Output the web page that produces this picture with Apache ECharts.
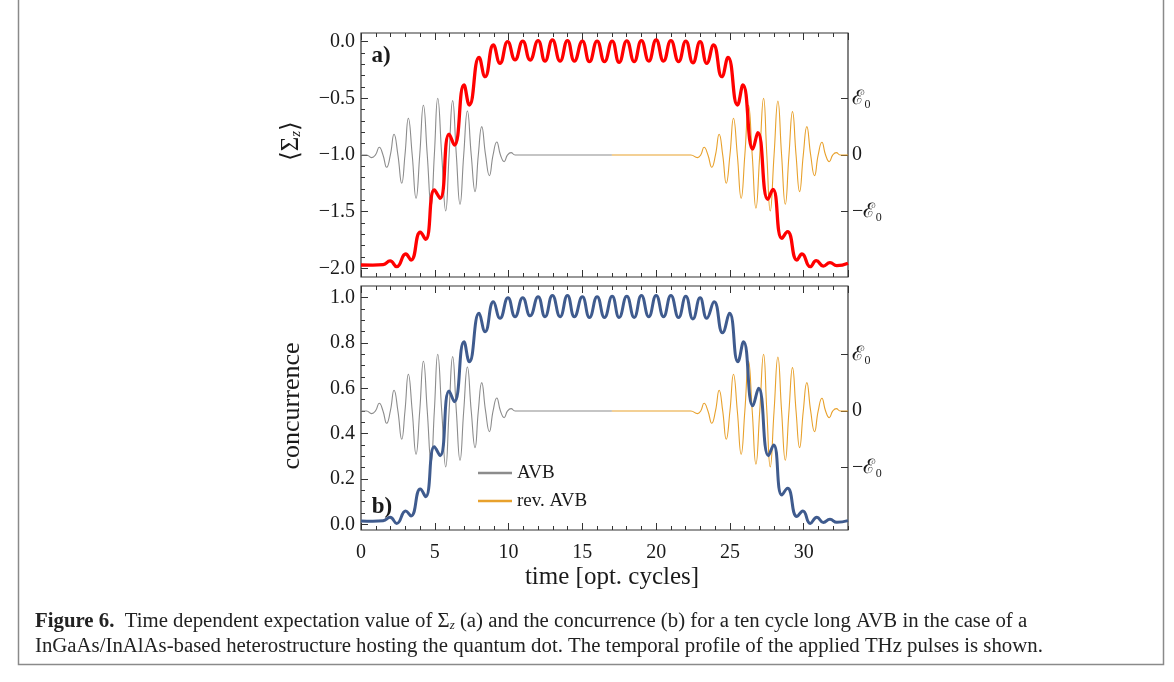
<!DOCTYPE html>
<html>
<head>
<meta charset="utf-8">
<script src="https://cdn.jsdelivr.net/npm/echarts@6/dist/echarts.min.js"></script>
<style>
html,body{margin:0;padding:0;background:#fff;}
#chart{width:1174px;height:682px;}
</style>
</head>
<body>
<div id="chart"></div>
<script>
// ---------- data ----------
// x range (optical cycles)
const xMin = 0, xMax = 33;
const xTickValues = [0, 5, 10, 15, 20, 25, 30];
// panel a tick labels
const sigmaTicks = [-2.0, -1.5, -1.0, -0.5, 0.0];
// panel b tick labels
const concTicks = [0.0, 0.2, 0.4, 0.6, 0.8, 1.0];
// field axis tick labels
const fieldTickLabels = ['−ℰ₀', '0', 'ℰ₀'];

// <Sigma_z> (panel a) : [time, value] at extrema
const sigmaZ = [
  [0, -1.971], [0.8, -1.972], [1.5, -1.968], [1.97, -1.935], [2.42, -1.986],
  [3.03, -1.874], [3.39, -1.927], [4.02, -1.682], [4.38, -1.744], [4.97, -1.309],
  [5.36, -1.382], [5.97, -0.815], [6.33, -0.912], [6.98, -0.382], [7.34, -0.559],
  [8.0, -0.138], [8.41, -0.309], [8.97, -0.029], [9.42, -0.19], [9.94, 0.0],
  [10.44, -0.16], [10.96, 0.005], [11.46, -0.162], [12.0, 0.01], [12.47, -0.171],
  [12.97, 0.015], [13.49, -0.171], [13.99, 0.01], [14.46, -0.171], [15.0, 0.005],
  [15.48, -0.176], [16.0, 0.005], [16.5, -0.176], [17.02, 0.005], [17.49, -0.182],
  [18.01, 0.008], [18.51, -0.176], [19.0, 0.01], [19.5, -0.171], [20.0, 0.015],
  [20.5, -0.171], [21.0, 0.01], [21.52, -0.176], [22.01, 0.005], [22.49, -0.186],
  [22.98, 0.0], [23.43, -0.191], [23.89, -0.029], [24.45, -0.309], [24.87, -0.138],
  [25.51, -0.559], [25.88, -0.382], [26.55, -0.947], [26.89, -0.803], [27.57, -1.391],
  [27.91, -1.303], [28.52, -1.735], [28.9, -1.677], [29.54, -1.927], [29.88, -1.874],
  [30.44, -1.986], [30.85, -1.933], [31.33, -1.98], [31.78, -1.95], [32.24, -1.977],
  [33.0, -1.956]
];

// concurrence (panel b) : [time, value] at extrema
const concurrence = [
  [0, 0.015], [0.8, 0.014], [1.5, 0.016], [1.97, 0.031], [2.42, 0.004],
  [3.03, 0.059], [3.39, 0.037], [4.02, 0.156], [4.38, 0.122], [4.97, 0.342],
  [5.36, 0.303], [5.97, 0.588], [6.33, 0.541], [6.98, 0.806], [7.34, 0.717],
  [8.0, 0.931], [8.41, 0.85], [8.97, 0.982], [9.42, 0.909], [9.96, 1.0],
  [10.44, 0.916], [10.96, 1.0], [11.46, 0.92], [12.0, 1.004], [12.47, 0.916],
  [12.97, 1.01], [13.49, 0.916], [13.99, 1.01], [14.46, 0.916], [15.0, 1.004],
  [15.48, 0.913], [16.0, 1.004], [16.5, 0.913], [17.02, 1.006], [17.49, 0.913],
  [18.01, 1.006], [18.51, 0.913], [19.0, 1.01], [19.5, 0.916], [20.0, 1.01],
  [20.5, 0.916], [21.0, 1.01], [21.52, 0.913], [22.01, 1.006], [22.49, 0.906],
  [22.98, 1.0], [23.43, 0.909], [23.93, 0.982], [24.5, 0.845], [24.97, 0.931],
  [25.54, 0.717], [25.92, 0.806], [26.55, 0.523], [26.94, 0.6], [27.61, 0.303],
  [27.96, 0.35], [28.52, 0.129], [28.9, 0.159], [29.54, 0.034], [29.94, 0.059],
  [30.44, 0.004], [30.89, 0.031], [31.33, 0.008], [31.78, 0.022], [32.24, 0.009],
  [33.0, 0.016]
];

// AVB field (units of E0): extrema and zero crossings
const fieldAVB = [
  [0, 0], [0.38, 0], [0.72, -0.047], [0.98, 0], [1.24, 0.135], [1.49, 0],
  [1.74, -0.218], [1.99, 0], [2.24, 0.365], [2.5, 0], [2.76, -0.5], [2.98, 0],
  [3.21, 0.647], [3.47, 0], [3.73, -0.765], [3.98, 0], [4.23, 0.876], [4.49, 0],
  [4.75, -0.912], [4.97, 0], [5.2, 1.0], [5.47, 0], [5.74, -0.988], [5.97, 0],
  [6.21, 0.959], [6.46, 0], [6.71, -0.871], [6.96, 0], [7.21, 0.776], [7.47, 0],
  [7.73, -0.647], [7.95, 0], [8.18, 0.5], [8.44, 0], [8.7, -0.365], [8.95, 0],
  [9.2, 0.229], [9.45, 0], [9.7, -0.118], [9.93, 0], [10.17, 0.041], [10.44, 0],
  [17.0, 0]
];

// reversed AVB field (units of E0)
const fieldRevAVB = [
  [17.0, 0], [22.35, 0], [22.8, -0.047], [23.02, 0], [23.25, 0.135], [23.51, 0],
  [23.77, -0.218], [24.02, 0], [24.27, 0.365], [24.51, 0], [24.75, -0.5], [25.0, 0],
  [25.24, 0.647], [25.5, 0], [25.76, -0.765], [26.01, 0], [26.26, 0.876], [26.51, 0],
  [26.76, -0.94], [27.02, 0], [27.28, 1.0], [27.5, 0], [27.73, -0.988], [27.99, 0],
  [28.25, 0.953], [28.5, 0], [28.75, -0.871], [29.0, 0], [29.24, 0.765], [29.48, 0],
  [29.72, -0.647], [29.97, 0], [30.21, 0.5], [30.47, 0], [30.73, -0.365], [30.98, 0],
  [31.23, 0.224], [31.48, 0], [31.73, -0.118], [31.97, 0], [32.21, 0.041], [32.47, 0],
  [33.0, 0]
];

const legendNames = ['AVB', 'rev. AVB'];

// ---------- styling ----------
const FONT = 'Liberation Serif';
const TXT = '#1a1a1a';
const AX = '#333';
const C_RED = '#ff0000';
const C_BLUE = '#3f5b8e';
const C_GRAY = '#8c8c8c';
const C_ORANGE = '#e8a12c';

const L = 361, W = 487;
const grids = [
  {left: L, top: 33, width: W, height: 244, show: true, borderColor: AX, borderWidth: 1.2, backgroundColor: 'transparent'},
  {left: L, top: 41.7, width: W, height: 226.6},
  {left: L, top: 98.3, width: W, height: 113.3},
  {left: L, top: 286, width: W, height: 244, show: true, borderColor: AX, borderWidth: 1.2, backgroundColor: 'transparent'},
  {left: L, top: 297.7, width: W, height: 226.6},
  {left: L, top: 354.3, width: W, height: 113.3}
];

function frameX(grid, pos, interval, len, labels) {
  return {
    type: 'value', gridIndex: grid, position: pos, min: xMin, max: xMax, interval: interval,
    axisLine: {show: false, onZero: false},
    axisTick: {show: true, inside: true, length: len, lineStyle: {color: AX, width: 1}},
    splitLine: {show: false},
    axisLabel: labels ? {
      show: true, margin: 13, fontFamily: FONT, fontSize: 20, color: TXT,
      showMaxLabel: false,
      formatter: v => (xTickValues.indexOf(v) >= 0 ? String(v) : '')
    } : {show: false}
  };
}
function hiddenX(grid) {
  return {type: 'value', gridIndex: grid, min: xMin, max: xMax, show: false, axisLine: {onZero: false}};
}

const xAxes = [
  frameX(0, 'bottom', 5, 7, false), frameX(0, 'bottom', 1, 4, false),
  frameX(0, 'top', 5, 7, false), frameX(0, 'top', 1, 4, false),
  hiddenX(1), hiddenX(2),
  frameX(3, 'bottom', 5, 7, true), frameX(3, 'bottom', 1, 4, false),
  frameX(3, 'top', 5, 7, false), frameX(3, 'top', 1, 4, false),
  hiddenX(4), hiddenX(5)
];

function fmtSigned(v) {
  const s = Math.abs(v).toFixed(1);
  return (v < -1e-9 ? '−' : '') + s;
}

const yAxes = [
  {type: 'value', gridIndex: 0, min: 0, max: 1, show: false, axisLine: {onZero: false}},
  {type: 'value', gridIndex: 1, position: 'left', min: sigmaTicks[0], max: sigmaTicks[sigmaTicks.length - 1], interval: 0.5,
    axisLine: {show: false, onZero: false}, splitLine: {show: false},
    axisTick: {show: true, inside: true, length: 7, lineStyle: {color: AX}},
    minorTick: {show: true, splitNumber: 5, length: 4, lineStyle: {color: AX}},
    axisLabel: {margin: 6, fontFamily: FONT, fontSize: 20, color: TXT, formatter: fmtSigned}},
  {type: 'value', gridIndex: 2, position: 'right', min: -1, max: 1, interval: 1,
    axisLine: {show: false, onZero: false}, splitLine: {show: false},
    axisTick: {show: true, inside: true, length: 7, lineStyle: {color: AX}},
    axisLabel: {margin: 4, fontFamily: FONT, fontSize: 20, color: TXT, formatter: v => fieldTickLabels[Math.round(v) + 1]}},
  {type: 'value', gridIndex: 3, min: 0, max: 1, show: false, axisLine: {onZero: false}},
  {type: 'value', gridIndex: 4, position: 'left', min: concTicks[0], max: concTicks[concTicks.length - 1], interval: 0.2,
    axisLine: {show: false, onZero: false}, splitLine: {show: false},
    axisTick: {show: true, inside: true, length: 7, lineStyle: {color: AX}},
    minorTick: {show: true, splitNumber: 4, length: 4, lineStyle: {color: AX}},
    axisLabel: {margin: 6, fontFamily: FONT, fontSize: 20, color: TXT, formatter: v => v.toFixed(1)}},
  {type: 'value', gridIndex: 5, position: 'right', min: -1, max: 1, interval: 1,
    axisLine: {show: false, onZero: false}, splitLine: {show: false},
    axisTick: {show: true, inside: true, length: 7, lineStyle: {color: AX}},
    axisLabel: {margin: 4, fontFamily: FONT, fontSize: 20, color: TXT, formatter: v => fieldTickLabels[Math.round(v) + 1]}}
];

function lineSeries(name, data, xi, yi, color, width, z) {
  return {
    type: 'line', name: name, data: data, xAxisIndex: xi, yAxisIndex: yi,
    smooth: 0.5, showSymbol: false, symbol: 'none', clip: false, z: z,
    lineStyle: {color: color, width: width}, itemStyle: {color: color},
    emphasis: {disabled: true}, silent: true
  };
}

const series = [
  lineSeries('AVB', fieldAVB, 5, 2, C_GRAY, 1.1, 2),
  lineSeries('rev. AVB', fieldRevAVB, 5, 2, C_ORANGE, 1.1, 2),
  lineSeries('sigma', sigmaZ, 4, 1, C_RED, 3.3, 3),
  lineSeries('AVB', fieldAVB, 11, 5, C_GRAY, 1.1, 2),
  lineSeries('rev. AVB', fieldRevAVB, 11, 5, C_ORANGE, 1.1, 2),
  lineSeries('conc', concurrence, 10, 4, C_BLUE, 3.0, 3)
];

const CAP = 20.8;
const caption1 = '{b|Figure 6.}{n|  Time dependent expectation value of Σ}{s|z}{n| (a) and the concurrence (b) for a ten cycle long AVB in the case of a}';
const caption2 = 'InGaAs/InAlAs-based heterostructure hosting the quantum dot. The temporal profile of the applied THz pulses is shown.';

const option = {
  animation: false,
  backgroundColor: '#ffffff',
  grid: grids,
  xAxis: xAxes,
  yAxis: yAxes,
  series: series,
  legend: {
    data: legendNames.map(n => ({name: n, icon: 'rect'})),
    orient: 'vertical', left: 478, top: 463, padding: 0, itemWidth: 34, itemHeight: 2.5, itemGap: 8,
    selectedMode: false,
    textStyle: {fontFamily: FONT, fontSize: 19, color: TXT, lineHeight: 20}
  },
  graphic: [
    {type: 'polyline', silent: true, shape: {points: [[18.5, -2], [18.5, 664.5], [1163.5, 664.5], [1163.5, -2]]},
      style: {stroke: '#8a8a8a', lineWidth: 1.5, fill: null}},
    {type: 'text', x: 381, y: 56, silent: true,
      style: {text: 'a)', fontFamily: FONT, fontWeight: 'bold', fontSize: 23, fill: TXT, align: 'center', verticalAlign: 'middle'}},
    {type: 'text', x: 382, y: 507, silent: true,
      style: {text: 'b)', fontFamily: FONT, fontWeight: 'bold', fontSize: 23, fill: TXT, align: 'center', verticalAlign: 'middle'}},
    {type: 'text', x: 291, y: 141, rotation: Math.PI / 2, silent: true,
      style: {text: '{a|⟨Σ}{s|z}{a|⟩}', align: 'center', verticalAlign: 'middle',
        rich: {a: {fontFamily: FONT, fontSize: 25, fill: TXT}, s: {fontFamily: FONT, fontSize: 15, fontStyle: 'italic', fill: TXT, padding: [10, 0, 0, 0]}}}},
    {type: 'text', x: 292, y: 406, rotation: Math.PI / 2, silent: true,
      style: {text: 'concurrence', fontFamily: FONT, fontSize: 26, fill: TXT, align: 'center', verticalAlign: 'middle'}},
    {type: 'text', x: 612, y: 577, silent: true,
      style: {text: 'time [opt. cycles]', fontFamily: FONT, fontSize: 25, fill: TXT, align: 'center', verticalAlign: 'middle'}},
    {type: 'text', x: 35, y: 622, silent: true,
      style: {text: caption1, align: 'left', verticalAlign: 'middle',
        rich: {
          b: {fontFamily: FONT, fontWeight: 'bold', fontSize: CAP, fill: '#222'},
          n: {fontFamily: FONT, fontSize: CAP, fill: '#222'},
          s: {fontFamily: FONT, fontSize: 13, fontStyle: 'italic', fill: '#222', padding: [8, 0, 0, 0]}
        }}},
    {type: 'text', x: 35, y: 647, silent: true,
      style: {text: caption2, fontFamily: FONT, fontSize: CAP, fill: '#222', align: 'left', verticalAlign: 'middle'}}
  ]
};

const chart = echarts.init(document.getElementById('chart'), null, {renderer: 'canvas'});
chart.setOption(option);
</script>
</body>
</html>
